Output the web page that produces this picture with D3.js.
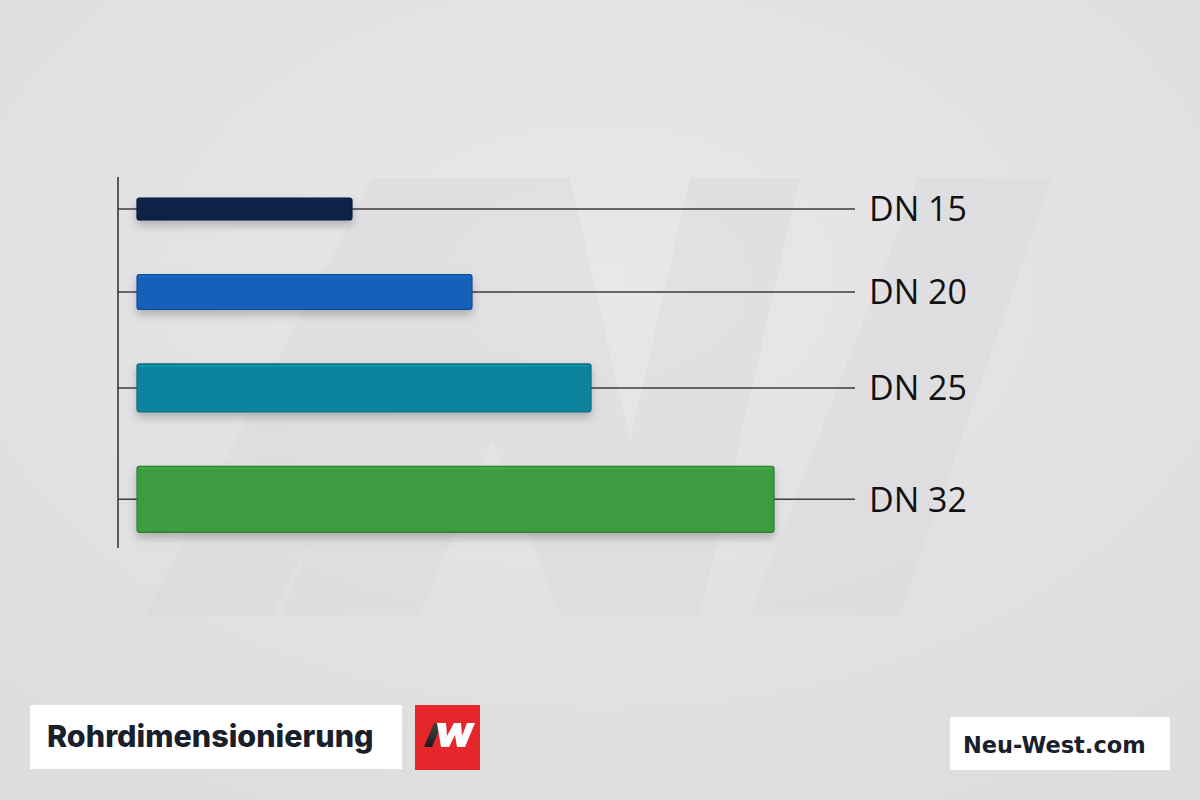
<!DOCTYPE html>
<html>
<head>
<meta charset="utf-8">
<script src="https://cdn.jsdelivr.net/npm/d3@7"></script>
<style>
  html, body { margin: 0; padding: 0; background: #e2e2e4; }
  svg { display: block; }
</style>
</head>
<body>
<div id="chart"></div>
<script>
// ---- data ----
const categories = ["DN 15", "DN 20", "DN 25", "DN 32"];
const diameters = [15, 20, 25, 32];            // nominal diameter (drives bar thickness)
const values = [215, 335, 454, 637];           // relative bar length (estimated, unlabelled)
const colors = ["#0c2247", "#1460b9", "#0d849d", "#3c9b40"];
const title = "Rohrdimensionierung";
const brand = "Neu-West.com";

const W = 1200, H = 800;
const svg = d3.select("#chart").append("svg").attr("width", W).attr("height", H);
const defs = svg.append("defs");

// background gradient
const bg = defs.append("radialGradient").attr("id", "bg").attr("cx", "50%").attr("cy", "35%").attr("r", "75%");
bg.append("stop").attr("offset", "0%").attr("stop-color", "#e8e8ea");
bg.append("stop").attr("offset", "100%").attr("stop-color", "#dddddf");
svg.append("rect").attr("width", W).attr("height", H).attr("fill", "url(#bg)");

// faint watermark logo
const wm = svg.append("g").attr("fill", "#d4d4d7").attr("opacity", 0.28);
const wmShapes = [
  [[145,615],[272,615],[500,178],[372,178]],
  [[282,615],[420,615],[492,440],[560,615],[700,615],[800,178],[690,178],[630,440],[570,178],[450,178]],
  [[750,615],[900,615],[1052,178],[918,178]]
];
wm.selectAll("path").data(wmShapes).join("path")
  .attr("d", d => d3.line()(d) + "Z");

// shadow filter
const f = defs.append("filter").attr("id", "shadow").attr("x", "-10%").attr("y", "-30%").attr("width", "120%").attr("height", "190%");
f.append("feDropShadow").attr("dx", 0).attr("dy", 5).attr("stdDeviation", 4)
  .attr("flood-color", "#000").attr("flood-opacity", 0.22);

// scales
const x0 = 137;
const x = d3.scaleLinear().domain([0, d3.max(values)]).range([x0, 774]);
const thick = d3.scaleLinear().domain([15, 32]).range([22, 66]);
const gap = 54.5;
const tops = [];
let acc = 198;
diameters.forEach(d => { tops.push(acc); acc += thick(d) + gap; });
const data = categories.map((c, i) => ({
  cat: c, v: values[i], d: diameters[i], color: colors[i],
  top: tops[i], h: thick(diameters[i]), cy: tops[i] + thick(diameters[i]) / 2
}));

// leader / grid lines
svg.append("g").selectAll("line").data(data).join("line")
  .attr("x1", 118).attr("x2", 855)
  .attr("y1", d => d.cy).attr("y2", d => d.cy)
  .attr("stroke", "#3d3d40").attr("stroke-width", 1.5);

// axis line
svg.append("line").attr("x1", 118).attr("x2", 118).attr("y1", 177).attr("y2", 548)
  .attr("stroke", "#2e2e30").attr("stroke-width", 1.5);

// bars
const bars = svg.append("g").selectAll("g").data(data).join("g");
bars.append("rect")
  .attr("x", x(0)).attr("y", d => d.top)
  .attr("width", d => x(d.v) - x(0)).attr("height", d => d.h)
  .attr("rx", 2.5)
  .attr("fill", d => d.color)
  .attr("stroke", d => d3.color(d.color).darker(0.6))
  .attr("stroke-width", 1.2)
  .attr("filter", "url(#shadow)");
// top highlight
bars.append("line")
  .attr("x1", x(0) + 2).attr("x2", d => x(d.v) - 2)
  .attr("y1", d => d.top + 2).attr("y2", d => d.top + 2)
  .attr("stroke", d => d3.color(d.color).brighter(0.5))
  .attr("stroke-opacity", 0.7).attr("stroke-width", 1.5);

// labels
svg.append("g").selectAll("text").data(data).join("text")
  .attr("x", 869).attr("y", d => d.cy)
  .attr("dy", "0.36em")
  .attr("font-family", "'Open Sans', sans-serif")
  .attr("font-size", 34)
  .attr("fill", "#111")
  .text(d => d.cat);

// footer title box
svg.append("rect").attr("x", 30).attr("y", 705).attr("width", 372).attr("height", 64).attr("fill", "#ffffff");
svg.append("text").attr("x", 47).attr("y", 747)
  .attr("font-family", "Inter, sans-serif").attr("font-weight", 800).attr("font-size", 30.5)
  .attr("fill", "#18202c").text(title);

// logo
svg.append("rect").attr("x", 415).attr("y", 705).attr("width", 65).attr("height", 65).attr("fill", "#e5262b");
const slash = defs.append("linearGradient").attr("id", "sl").attr("x1", "0").attr("y1", "1").attr("x2", "0").attr("y2", "0");
slash.append("stop").attr("offset", "0%").attr("stop-color", "#1a1a1a");
slash.append("stop").attr("offset", "100%").attr("stop-color", "#444");
svg.append("path").attr("fill", "url(#sl)")
  .attr("d", d3.line()([[424,747],[432,747],[442,723],[434,723]]) + "Z");
svg.append("path").attr("fill", "#ffffff")
  .attr("d", d3.line()([[437,723],[446,723],[447,736],[454,723],[461,723],[462,736],[467,723],[475,723],[465,747],[457,747],[455,735],[449,747],[441,747]]) + "Z");

// brand box
svg.append("rect").attr("x", 950).attr("y", 717).attr("width", 220).attr("height", 53).attr("fill", "#ffffff");
svg.append("text").attr("x", 963).attr("y", 753)
  .attr("font-family", "'DejaVu Sans', sans-serif").attr("font-weight", 700).attr("font-size", 22.5)
  .attr("fill", "#18202c").text(brand);
</script>
</body>
</html>
